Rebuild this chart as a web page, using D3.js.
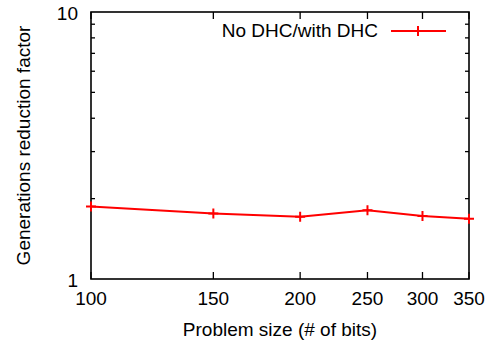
<!DOCTYPE html>
<html>
<head>
<meta charset="utf-8">
<script src="https://cdn.jsdelivr.net/npm/d3@7/dist/d3.min.js"></script>
<style>
  html, body { margin: 0; padding: 0; background: #fff; }
  svg text { font-family: "Liberation Sans", Arial, Helvetica, sans-serif; fill: #000; }
</style>
</head>
<body>
<svg id="chart" width="494" height="345"></svg>
<script>
// Problem sizes (bits) and the generations reduction factor (no DHC / with DHC)
const problemSizes = [100, 150, 200, 250, 300, 350];
const reductionFactor = [1.87, 1.76, 1.71, 1.81, 1.72, 1.68];
const xTickLabels = ["100", "150", "200", "250", "300", "350"];
const yTickValues = [1, 10];
const yMinorTicks = [2, 3, 4, 5, 6, 7, 8, 9];
const seriesName = "No DHC/with DHC";

const svg = d3.select("#chart");
const plot = { left: 91, right: 469, top: 12, bottom: 279 };
const fontSize = 19;

const x = d3.scaleLog().domain([100, 350]).range([plot.left, plot.right]);
const y = d3.scaleLog().domain([1, 10]).range([plot.bottom, plot.top]);

// tick marks on all four sides
const ticks = svg.append("g").attr("stroke", "#000").attr("stroke-width", 1.3);
problemSizes.forEach(v => {
  ticks.append("line").attr("x1", x(v)).attr("x2", x(v)).attr("y1", plot.bottom).attr("y2", plot.bottom - 7);
  ticks.append("line").attr("x1", x(v)).attr("x2", x(v)).attr("y1", plot.top).attr("y2", plot.top + 7);
});
yMinorTicks.forEach(v => {
  ticks.append("line").attr("x1", plot.left).attr("x2", plot.left + 4).attr("y1", y(v)).attr("y2", y(v));
  ticks.append("line").attr("x1", plot.right).attr("x2", plot.right - 4).attr("y1", y(v)).attr("y2", y(v));
});

// frame
svg.append("rect")
  .attr("x", plot.left).attr("y", plot.top)
  .attr("width", plot.right - plot.left).attr("height", plot.bottom - plot.top)
  .attr("fill", "none").attr("stroke", "#000").attr("stroke-width", 1.6);

// tick labels
svg.append("g").selectAll("text").data(problemSizes).join("text")
  .attr("x", d => x(d)).attr("y", 305)
  .attr("text-anchor", "middle").attr("font-size", fontSize)
  .text((d, i) => xTickLabels[i]);

svg.append("g").selectAll("text").data(yTickValues).join("text")
  .attr("x", 78).attr("y", d => y(d) + 8)
  .attr("text-anchor", "end").attr("font-size", fontSize)
  .text(d => d);

// axis titles
svg.append("text")
  .attr("x", (plot.left + plot.right) / 2).attr("y", 336)
  .attr("text-anchor", "middle").attr("font-size", fontSize)
  .text("Problem size (# of bits)");

svg.append("text")
  .attr("transform", `translate(30,${(plot.top + plot.bottom) / 2}) rotate(-90)`)
  .attr("text-anchor", "middle").attr("font-size", fontSize)
  .text("Generations reduction factor");

// series line with "+" markers
const red = "#ff0000";
const pts = problemSizes.map((v, i) => [x(v), y(reductionFactor[i])]);
svg.append("path")
  .attr("d", d3.line()(pts))
  .attr("fill", "none").attr("stroke", red).attr("stroke-width", 2);

function plus(g, cx, cy) {
  g.append("path")
    .attr("d", `M${cx - 5},${cy}H${cx + 5}M${cx},${cy - 5}V${cy + 5}`)
    .attr("stroke", red).attr("stroke-width", 2).attr("fill", "none");
}
const marks = svg.append("g");
pts.forEach(p => plus(marks, p[0], p[1]));

// legend
svg.append("text")
  .attr("x", 378).attr("y", 37)
  .attr("text-anchor", "end").attr("font-size", fontSize)
  .text(seriesName);
svg.append("line")
  .attr("x1", 391).attr("x2", 446).attr("y1", 31).attr("y2", 31)
  .attr("stroke", red).attr("stroke-width", 2);
plus(svg, 418, 31);
</script>
</body>
</html>
